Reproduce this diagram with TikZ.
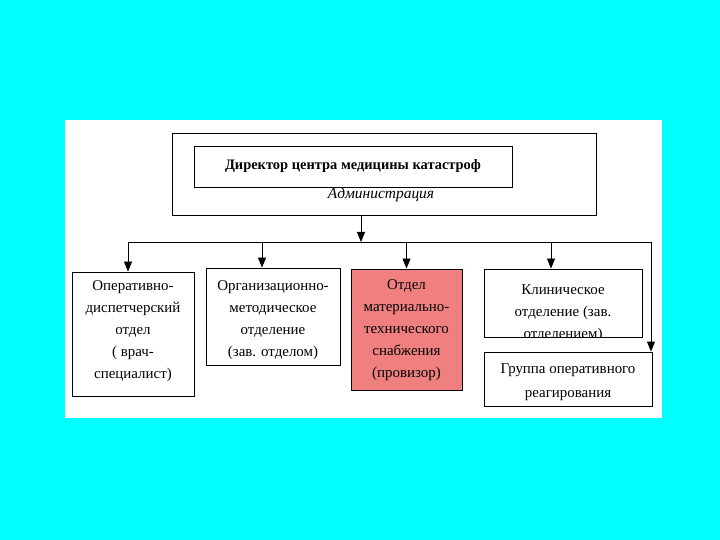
\documentclass[tikz,border=0pt]{standalone}
\usepackage{fontspec}
\setmainfont{Liberation Serif}
\usetikzlibrary{arrows.meta}
\definecolor{bgcyan}{RGB}{0,255,255}
\definecolor{salmonbox}{RGB}{240,128,128}
\begin{document}
\begin{tikzpicture}[x=1bp,y=-1bp,
  box/.style={draw, line width=0.9bp, inner sep=0pt},
  txt/.style={inner sep=0pt, align=center, font=\fontsize{15}{22}\selectfont},
  conn/.style={line width=0.9bp},
  arr/.style={line width=0.9bp, -{Triangle[length=10bp,width=8bp]}}]
\useasboundingbox (0,0) rectangle (720,540);
\fill[bgcyan] (0,0) rectangle (720,540);
\fill[white] (65,120) rectangle (662,418);

% top block
\node[box, minimum width=424bp, minimum height=82bp] (admin) at (384,174) {};
\node[box, minimum width=318bp, minimum height=41bp, align=center,
      font=\bfseries\fontsize{14.5}{17}\selectfont] (dir) at (353,166.5)
      {Директор центра медицины катастроф};
\node[inner sep=0pt, font=\itshape\fontsize{15.5}{18}\selectfont] (adm) at (381,195) {Администрация};

% departments
\node[box, minimum width=122bp, minimum height=124bp] (b1) at (133,334) {};
\node[txt] (b1t) at (133,331) {Оперативно-\\диспетчерский\\отдел\\( врач-\\специалист)};
\node[box, minimum width=134bp, minimum height=97bp] (b2) at (273,316.5) {};
\node[txt] (b2t) at (273,320) {Организационно-\\методическое\\отделение\\(зав. отделом)};
\node[box, fill=salmonbox, minimum width=111bp, minimum height=121bp] (b3) at (406.5,329.5) {};
\node[txt] (b3t) at (406.5,330) {Отдел\\материально-\\технического\\снабжения\\(провизор)};
\node[box, minimum width=158bp, minimum height=68bp] (b4) at (563,303) {};
\begin{scope}
  \clip (b4.north west) rectangle (b4.south east);
  \node[txt] (b4t) at (563,313) {Клиническое\\отделение (зав.\\отделением)};
\end{scope}
\node[box, minimum width=168bp, minimum height=54bp] (b5) at (568,379) {};
\node[txt, font=\fontsize{15}{24}\selectfont] (b5t) at (568,382.5) {Группа оперативного\\реагирования};

% connectors
\coordinate (bc) at (361,242);
\coordinate (busL) at (128,242);
\coordinate (busR) at (651,242);
\coordinate (d2) at (262,242);
\coordinate (d3) at (406.5,242);
\coordinate (d4) at (551,242);
\draw[arr] (admin.south -| bc) -- (bc);
\draw[conn] (busL) -- (busR);
\draw[arr] (busL) -- (busL |- b1.north);
\draw[arr] (d2) -- (d2 |- b2.north);
\draw[arr] (d3) -- (d3 |- b3.north);
\draw[arr] (d4) -- (d4 |- b4.north);
\draw[arr] (busR) -- (busR |- b5.north);
\end{tikzpicture}
\end{document}
